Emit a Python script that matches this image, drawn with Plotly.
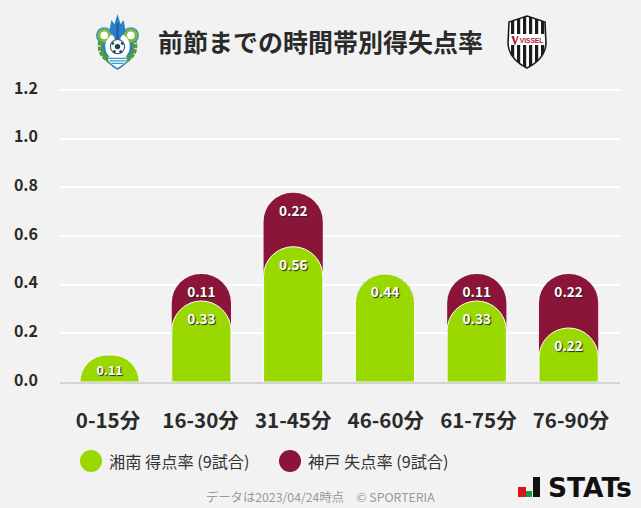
import base64
import plotly.graph_objects as go

categories = ["0-15分", "16-30分", "31-45分", "46-60分", "61-75分", "76-90分"]
shonan_for = [0.111, 0.333, 0.556, 0.444, 0.333, 0.222]
kobe_against = [0.000, 0.111, 0.222, 0.000, 0.111, 0.222]
y_ticks = [0.0, 0.2, 0.4, 0.6, 0.8, 1.0, 1.2]
shonan_name = "湘南 得点率 (9試合)"
kobe_name = "神戸 失点率 (9試合)"
title_text = "前節までの時間帯別得失点率"
footer_text = "データは2023/04/24時点　© SPORTERIA"

GREEN = "#99d900"
MAROON = "#8b1538"
BG = "#f2f2f2"
FONT = "Noto Sans CJK JP"
W, H = 641, 508
L, R, T, B = 60, 620, 85, 382
Y_MAX = 1.2205


def uri(svg):
    return "data:image/svg+xml;base64," + base64.b64encode(svg.encode()).decode()


shonan_svg = """<svg xmlns='http://www.w3.org/2000/svg' viewBox='0 0 44 56'>
<path d='M6 28 C3 42 13 49 22 55 C31 49 41 42 38 28' fill='#2f7fc4'/>
<circle cx='9' cy='21' r='8' fill='#3d8fd0'/><circle cx='35' cy='21' r='8' fill='#3d8fd0'/>
<circle cx='9' cy='21' r='5.2' fill='#ffffff' stroke='#7cbc3a' stroke-width='3'/>
<circle cx='35' cy='21' r='5.2' fill='#ffffff' stroke='#7cbc3a' stroke-width='3'/>
<path d='M5.5 27 C3 40 12 46 22 49 C32 46 41 40 38.5 27' fill='none' stroke='#4f9e3a' stroke-width='5' stroke-dasharray='4 1'/>
<ellipse cx='22' cy='32' rx='12' ry='13' fill='#ffffff'/>
<path d='M14 17 L16 6 L19 10 L22 0 L25 10 L28 6 L30 17 L25 23 L25 25 L19 25 L19 23Z' fill='#2f7fc4'/>
<path d='M20.8 9 L23.2 9 L23.2 25 L20.8 25Z' fill='#1f5fa8'/>
<circle cx='22' cy='32' r='7' fill='#f6f6f6' stroke='#25506e' stroke-width='1'/>
<circle cx='22' cy='32' r='2.6' fill='#1d3f4f'/>
<circle cx='17.5' cy='29' r='1.3' fill='#1d3f4f'/><circle cx='26.5' cy='29' r='1.3' fill='#1d3f4f'/>
<circle cx='19' cy='37' r='1.3' fill='#1d3f4f'/><circle cx='25' cy='37' r='1.3' fill='#1d3f4f'/>
<path d='M13 42 L31 42 L31 46 C28 50 25 51 22 53 C19 51 16 50 13 46Z' fill='#ffffff'/>
<path d='M13 43.5 L31 43.5 M14 46 L30 46 M16 48.5 L28 48.5' stroke='#2f9fc4' stroke-width='1.2'/>
</svg>"""

stripes = "".join(
    f"<rect x='{x}' y='3' width='3.2' height='52' fill='#1c1c1c'/>" for x in (6, 12, 18, 24, 30, 36)
)
vissel_svg = f"""<svg xmlns='http://www.w3.org/2000/svg' viewBox='0 0 44 56'>
<defs><clipPath id='c'><path d='M22 2 L40 8 L41 30 C40 42 30 50 22 54 C14 50 4 42 3 30 L4 8Z'/></clipPath></defs>
<path d='M22 2 L40 8 L41 30 C40 42 30 50 22 54 C14 50 4 42 3 30 L4 8Z' fill='#ffffff'/>
<g clip-path='url(#c)'>{stripes}<rect x='3' y='20' width='38' height='11' fill='#ffffff'/></g>
<path d='M22 2 L40 8 L41 30 C40 42 30 50 22 54 C14 50 4 42 3 30 L4 8Z' fill='none' stroke='#1c1c1c' stroke-width='1.6'/>
<path d='M7 22 L10 30 L13 22 M10 30 L8.5 22' fill='none' stroke='#b5122f' stroke-width='1.2'/>
<text x='26.5' y='29' font-family='Liberation Sans' font-weight='bold' font-size='6.6' fill='#b5122f' text-anchor='middle'>VISSEL</text>
</svg>"""

totals = [a + b for a, b in zip(shonan_for, kobe_against)]
kobe_labels = [f"{v:.2f}" if v > 0 else "" for v in kobe_against]
shonan_labels = [f"{v:.2f}" for v in shonan_for]
label_font = dict(family=FONT, size=13.6, color="white", weight="bold", shadow="1px 1px 1px #222222")

fig = go.Figure()
fig.add_bar(x=categories, y=totals, name=kobe_name, marker_color=MAROON, text=kobe_labels,
            textposition="inside", insidetextanchor="end", textangle=0, textfont=label_font,
            constraintext="none", showlegend=False, hoverinfo="skip", marker_line_width=0)
fig.add_bar(x=categories, y=shonan_for, name=shonan_name, marker_color=GREEN, text=shonan_labels,
            textposition="inside", insidetextanchor="end", textangle=0, textfont=label_font,
            constraintext="none", showlegend=False, hoverinfo="skip", yaxis="y2",
            marker_line_color="white", marker_line_width=1)
fig.add_scatter(x=[0, 5], y=[None, None], xaxis="x2", showlegend=False, hoverinfo="skip", mode="markers")


def px(x):
    return (x - L) / (R - L)


def py(y):
    return (B - y) / (B - T)


shapes = []
annotations = [
    dict(text=title_text, x=px(320), y=py(41), font=dict(size=25, color="#2a2a2a", weight="bold")),
    dict(text=footer_text, x=px(320), y=py(497), font=dict(size=12.3, color="#999999")),
    dict(text=shonan_name, x=px(107), y=py(461), xanchor="left", font=dict(size=16.2, color="#333333")),
    dict(text=kobe_name, x=px(306), y=py(461), xanchor="left", font=dict(size=16.2, color="#333333")),
    dict(text="STATs", x=px(546), y=py(487), xanchor="left",
         font=dict(family="DejaVu Sans", size=26.5, color="#111111", weight="bold")),
]
for cx, col in ((91, GREEN), (290, MAROON)):
    shapes.append(dict(type="circle", xref="paper", yref="paper", fillcolor=col, line_width=0,
                       x0=px(cx - 11), x1=px(cx + 11), y0=py(472), y1=py(450)))
for x0, x1, y0, col in ((518, 526, 487, "#d8141c"), (526, 532, 491, "#0f9d4a"), (533, 540, 477, "#111111")):
    shapes.append(dict(type="rect", xref="paper", yref="paper", fillcolor=col, line_width=0,
                       x0=px(x0), x1=px(x1), y0=py(497), y1=py(y0)))
for a in annotations:
    a.update(xref="paper", yref="paper", showarrow=False)
    a.setdefault("xanchor", "center")
    a["yanchor"] = "middle"

sx, sy = 1 / (R - L), 1 / (B - T)
images = [
    dict(source=uri(shonan_svg), xref="paper", yref="paper", x=px(95), y=py(14), sizex=45 * sx, sizey=57 * sy,
         xanchor="left", yanchor="top", sizing="stretch", layer="above"),
    dict(source=uri(vissel_svg), xref="paper", yref="paper", x=px(505), y=py(14), sizex=44 * sx, sizey=56 * sy,
         xanchor="left", yanchor="top", sizing="stretch", layer="above"),
]

fig.update_layout(
    width=W, height=H, autosize=False,
    paper_bgcolor=BG, plot_bgcolor=BG,
    font=dict(family=FONT),
    barmode="overlay", bargap=0.355, barcornerradius=30,
    margin=dict(l=L, r=W - R, t=T, b=H - B),
    showlegend=False,
    shapes=shapes, annotations=annotations, images=images,
    xaxis=dict(range=[-0.54, 5.56], showticklabels=False, showgrid=False, ticks="",
               showline=True, linecolor="#d4d4d4", linewidth=2, fixedrange=True),
    xaxis2=dict(range=[-0.518, 5.529], overlaying="x", anchor="y", side="bottom", showgrid=False, zeroline=False,
                tickmode="array", tickvals=list(range(len(categories))), ticktext=categories, ticks="",
                tickfont=dict(size=20.5, color="#2a2a2a", weight="bold"), ticklabelstandoff=24, fixedrange=True),
    yaxis=dict(range=[0, Y_MAX], tickvals=y_ticks, ticktext=[f"{v:.1f}" for v in y_ticks],
               tickfont=dict(size=16, color="#2a2a2a", weight="bold"), gridcolor="white", gridwidth=2,
               zeroline=False, ticks="", ticklabelstandoff=21, ticklabelshift=-2, fixedrange=True),
    yaxis2=dict(range=[0, Y_MAX], overlaying="y", visible=False, fixedrange=True),
)
fig.write_html("out.html", config=dict(displayModeBar=False),
               post_script="document.body.style.margin='0';document.body.style.background='#f2f2f2';")
